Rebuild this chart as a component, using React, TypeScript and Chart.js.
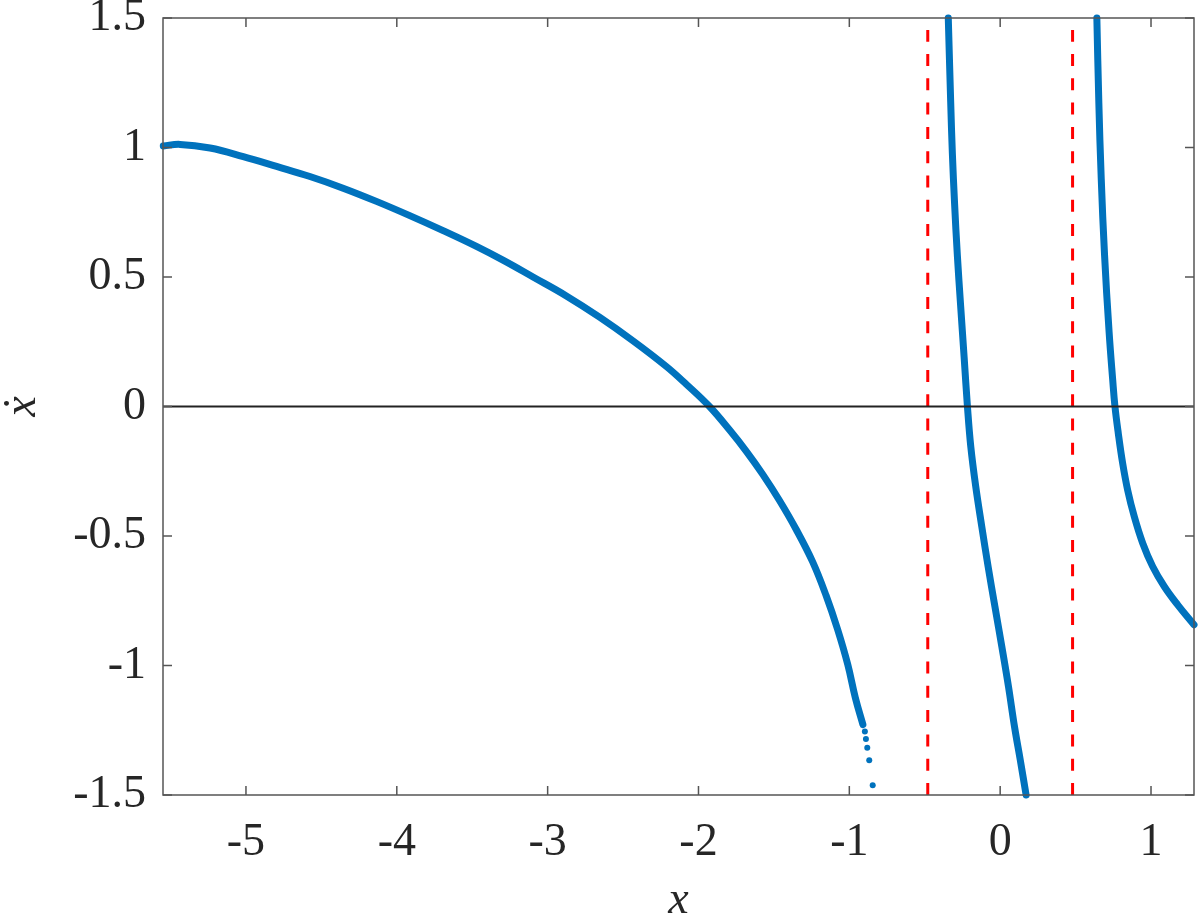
import React, { useEffect, useRef } from 'react';
import { Chart, registerables } from 'chart.js';

Chart.register(...registerables);

// axis limits and ticks
const xMin = -5.55;
const xMax = 1.285;
const yMin = -1.5;
const yMax = 1.5;
const xTicks = [-5, -4, -3, -2, -1, 0, 1];
const yTicks = [-1.5, -1, -0.5, 0, 0.5, 1, 1.5];

// left branch (dense part)
const branch1X = [-5.548, -5.437, -5.238, -5.018, -4.797, -4.576, -4.356, -4.135, -3.914, -3.693, -3.472, -3.29, -3.097, -2.876, -2.656, -2.435, -2.214, -2.081, -1.927, -1.795, -1.684, -1.574, -1.464, -1.353, -1.243, -1.154, -1.077, -1.011, -0.96, -0.91];
const branch1Y = [1.006, 1.012, 0.998, 0.965, 0.927, 0.888, 0.843, 0.792, 0.737, 0.679, 0.618, 0.563, 0.5, 0.427, 0.345, 0.254, 0.155, 0.086, 0, -0.09, -0.172, -0.262, -0.362, -0.474, -0.6, -0.73, -0.862, -0.995, -1.125, -1.228];

// sparse dots at the end of the left branch
const tailX = [-0.897, -0.89, -0.881, -0.868, -0.845];
const tailY = [-1.255, -1.284, -1.318, -1.366, -1.462];

// middle branch
const branch2X = [-0.344, -0.328, -0.317, -0.302, -0.284, -0.262, -0.239, -0.217, -0.195, -0.162, -0.122, -0.08, -0.035, 0.011, 0.055, 0.095, 0.133, 0.172];
const branch2Y = [1.5, 1.175, 0.978, 0.781, 0.585, 0.388, 0.191, 0, -0.154, -0.309, -0.463, -0.618, -0.772, -0.927, -1.081, -1.236, -1.364, -1.5];

// right branch
const branch3X = [0.641, 0.654, 0.67, 0.692, 0.722, 0.746, 0.761, 0.783, 0.812, 0.845, 0.889, 0.945, 1.011, 1.088, 1.177, 1.285];
const branch3Y = [1.5, 1.175, 0.88, 0.585, 0.289, 0.103, 0, -0.103, -0.219, -0.322, -0.425, -0.528, -0.618, -0.695, -0.766, -0.843];

// singular lines (red dashed)
const singularX = [-0.48, 0.48];

const BLUE = '#0072BD';
const TEXT = '#262626';
const FRAME = '#555555';
const FONT = "'Liberation Serif', 'Times New Roman', serif";
const TICK = 9;

const pts = (xs: number[], ys: number[]) => xs.map((x, i) => ({ x, y: ys[i] }));

const frameTicks = {
  id: 'frameTicks',
  afterDatasetsDraw(chart: any) {
    const { ctx, chartArea, scales } = chart;
    const { left, right, top, bottom } = chartArea;
    ctx.save();
    ctx.strokeStyle = FRAME;
    ctx.lineWidth = 1.5;
    ctx.strokeRect(left, top, right - left, bottom - top);
    ctx.beginPath();
    xTicks.forEach(v => {
      const px = scales.x.getPixelForValue(v);
      ctx.moveTo(px, bottom); ctx.lineTo(px, bottom - TICK);
      ctx.moveTo(px, top); ctx.lineTo(px, top + TICK);
    });
    yTicks.forEach(v => {
      const py = scales.y.getPixelForValue(v);
      ctx.moveTo(left, py); ctx.lineTo(left + TICK, py);
      ctx.moveTo(right, py); ctx.lineTo(right - TICK, py);
    });
    ctx.stroke();
    ctx.restore();
  },
};

const App: React.FC = () => {
  const canvasRef = useRef<HTMLCanvasElement>(null);

  useEffect(() => {
    const ctx = canvasRef.current?.getContext('2d');
    if (!ctx) return;

    const curve = (xs: number[], ys: number[]) => ({
      data: pts(xs, ys),
      showLine: true,
      borderColor: BLUE,
      borderWidth: 7,
      borderCapStyle: 'round',
      borderJoinStyle: 'round',
      pointRadius: 0,
      tension: 0.4,
      clip: 6,
      order: 2,
    });

    const chart = new Chart(ctx, {
      type: 'scatter',
      data: {
        datasets: [
          {
            data: [{ x: xMin, y: 0 }, { x: xMax, y: 0 }],
            showLine: true,
            borderColor: '#222222',
            borderWidth: 2,
            pointRadius: 0,
            order: 0,
          },
          ...singularX.map(sx => ({
            data: [{ x: sx, y: yMin }, { x: sx, y: yMax - 0.046 }],
            showLine: true,
            borderColor: '#ff0000',
            borderWidth: 3,
            borderDash: [12, 12.3],
            pointRadius: 0,
            order: 3,
          })),
          curve(branch1X, branch1Y),
          {
            data: pts(tailX, tailY),
            showLine: false,
            pointRadius: 3,
            pointBorderWidth: 0,
            pointBackgroundColor: BLUE,
            order: 2,
          },
          curve(branch2X, branch2Y),
          curve(branch3X, branch3Y),
        ] as any,
      },
      options: {
        responsive: true,
        maintainAspectRatio: false,
        animation: false,
        layout: { padding: { left: 0, right: 6, top: 18, bottom: 0 } },
        plugins: { legend: { display: false }, tooltip: { enabled: false } },
        scales: {
          x: {
            type: 'linear',
            min: xMin,
            max: xMax,
            afterBuildTicks: (s: any) => { s.ticks = xTicks.map(value => ({ value })); },
            afterFit: (s: any) => { s.height = 127; s.paddingLeft = 0; s.paddingRight = 0; },
            grid: { display: false, drawTicks: false },
            border: { display: false },
            ticks: {
              color: TEXT,
              font: { family: FONT, size: 46 },
              padding: 20,
              maxRotation: 0,
              autoSkip: false,
              callback: (v: any) => String(v),
            },
            title: {
              display: true,
              text: 'x',
              color: TEXT,
              font: { family: FONT, size: 46, style: 'italic', lineHeight: 0.9 },
              padding: 0,
            },
          },
          y: {
            type: 'linear',
            min: yMin,
            max: yMax,
            afterBuildTicks: (s: any) => { s.ticks = yTicks.map(value => ({ value })); },
            afterFit: (s: any) => { s.width = 163; s.paddingTop = 0; s.paddingBottom = 0; },
            grid: { display: false, drawTicks: false },
            border: { display: false },
            ticks: {
              color: TEXT,
              font: { family: FONT, size: 46 },
              padding: 17,
              autoSkip: false,
              callback: (v: any) => String(v),
            },
            title: {
              display: true,
              text: 'ẋ',
              color: TEXT,
              font: { family: FONT, size: 46, style: 'italic', lineHeight: 1 },
              padding: 0,
            },
          },
        },
      },
      plugins: [frameTicks],
    } as any);

    return () => chart.destroy();
  }, []);

  return (
    <div style={{ position: 'fixed', left: 0, top: 0, width: 1200, height: 922, background: '#ffffff' }}>
      <canvas ref={canvasRef} />
    </div>
  );
};

export default App;
